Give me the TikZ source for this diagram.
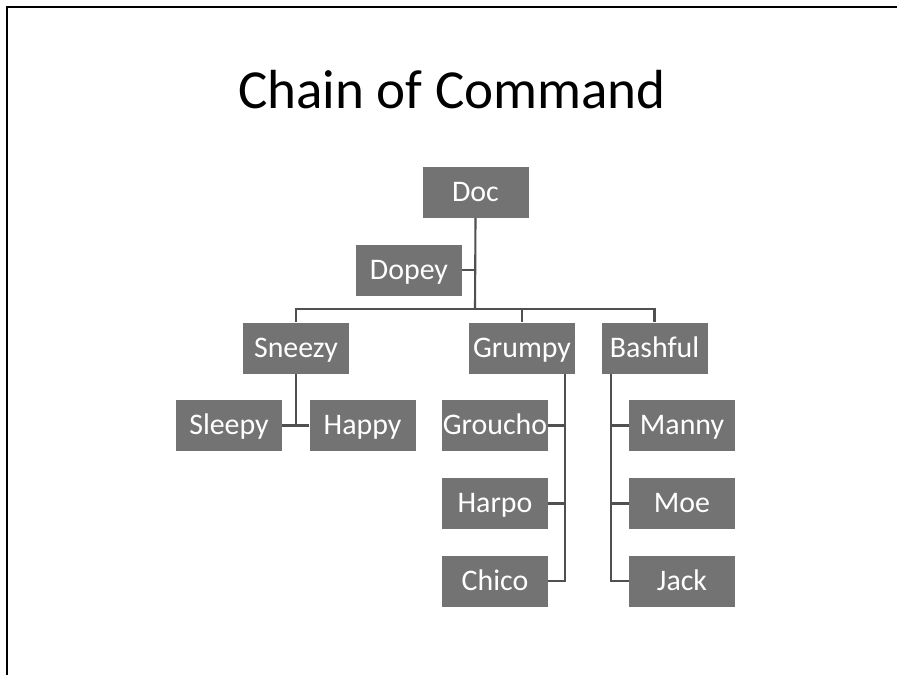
\documentclass[tikz,border=0pt]{standalone}
\usepackage{fontspec}
\setmainfont{Carlito}
\usetikzlibrary{calc}
\definecolor{BoxClr}{RGB}{115,115,115}
\definecolor{LinkClr}{RGB}{80,80,80}

\begin{document}
\begin{tikzpicture}[x=0.03cm,y=-0.03cm,
  member/.style={fill=BoxClr,text=white,inner sep=0pt,
    text height=20pt,text depth=4pt,
    minimum width=3.18cm,minimum height=1.53cm,font=\fontsize{25.5}{30}\selectfont},
  link/.style={draw=LinkClr,line width=1.8pt}]
\useasboundingbox (0,0) rectangle (897,675);

% frame
\draw[line width=1.2pt] (7,675) -- (7,7) -- (897,7);

% title
\node[anchor=base,font=\fontsize{47}{52}\selectfont] (title) at (452,108) {Chain of Command};

% boxes
\node[member] (Doc) at (475.5,192.5) {Doc};
\node[member] (Dopey) at (409,270) {Dopey};

\node[member] (Sneezy) at (296,348) {Sneezy};
\node[member] (Grumpy) at (522,348) {Grumpy};
\node[member] (Bashful) at (654.5,348) {Bashful};

\node[member] (Sleepy) at (229,425.5) {Sleepy};
\node[member] (Happy) at (362.5,425.5) {Happy};

\node[member] (Groucho) at (495,425.5) {Groucho};
\node[member] (Harpo) at (495,503.5) {Harpo};
\node[member] (Chico) at (495,581) {Chico};

\node[member] (Manny) at (682,425.5) {Manny};
\node[member] (Moe) at (682,503.5) {Moe};
\node[member] (Jack) at (682,581) {Jack};

% connectors
\coordinate (bus) at (475,309);
\draw[link] (Doc.south) -- (bus);
\draw[link] (Dopey.east) -- (Dopey.east -| Doc.south);
\draw[link] (Sneezy.north) |- (bus) -| (Bashful.north);
\draw[link] (bus -| Grumpy.north) -- (Grumpy.north);

\draw[link] (Sneezy.south) -- (Sneezy.south |- Sleepy.east);
\draw[link] (Sleepy.east) -- (Happy.west);

\coordinate (grumpyspine) at ($(Grumpy.south east)+(-10,0)$);
\draw[link] (grumpyspine) |- (Chico.east);
\foreach \n in {Groucho,Harpo}
  \draw[link] (\n.east) -- (\n.east -| grumpyspine);

\coordinate (bashfulspine) at ($(Bashful.south west)+(10,0)$);
\draw[link] (bashfulspine) |- (Jack.west);
\foreach \n in {Manny,Moe}
  \draw[link] (\n.west) -- (\n.west -| bashfulspine);

\end{tikzpicture}
\end{document}
